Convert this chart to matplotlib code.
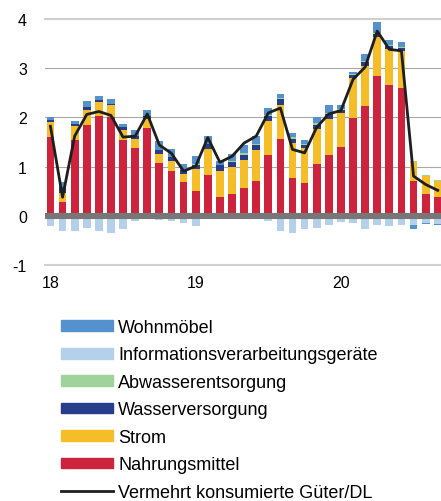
import numpy as np
import matplotlib.pyplot as plt
from matplotlib.patches import Patch
from matplotlib.lines import Line2D

plt.rcParams['font.family'] = ['Liberation Sans', 'DejaVu Sans']

# Monatswerte Jan 2018 bis Sep 2020 (Beiträge in Prozentpunkten)
months = np.arange(33)
nahrung = [1.61, 0.28, 1.55, 1.84, 2.02, 2.01, 1.55, 1.38, 1.78, 1.08, 0.91, 0.69,
           0.50, 0.84, 0.39, 0.44, 0.56, 0.72, 1.23, 1.57, 0.77, 0.67, 1.06, 1.23,
           1.39, 1.99, 2.23, 2.84, 2.65, 2.60, 0.71, 0.44, 0.38]
strom = [0.29, 0.19, 0.27, 0.32, 0.30, 0.24, 0.19, 0.19, 0.19, 0.18, 0.20, 0.17,
         0.46, 0.51, 0.53, 0.55, 0.57, 0.61, 0.69, 0.69, 0.71, 0.70, 0.71, 0.74,
         0.70, 0.80, 0.81, 0.79, 0.73, 0.74, 0.39, 0.38, 0.34]
wasser = [0.04, 0.11, 0.04, 0.05, 0.04, 0.03, 0.06, 0.05, 0.05, 0.07, 0.09, 0.07,
          0.08, 0.12, 0.11, 0.10, 0.11, 0.12, 0.10, 0.12, 0.09, 0.08, 0.07, 0.09,
          0.07, 0.08, 0.08, 0.07, 0.06, 0.06, 0.00, 0.00, 0.00]
abwasser = [0.00, 0.00, 0.00, 0.00, 0.00, 0.00, 0.00, 0.00, 0.00, 0.00, 0.00, 0.00,
            0.02, 0.00, 0.00, 0.02, 0.03, 0.02, 0.02, 0.02, 0.03, 0.02, 0.04, 0.02,
            0.02, 0.02, 0.03, 0.02, 0.02, 0.02, 0.02, 0.02, 0.01]
info = [-0.20, -0.30, -0.30, -0.25, -0.30, -0.34, -0.26, -0.10, -0.07, -0.09, -0.10, -0.15,
        -0.20, -0.03, 0.00, 0.00, 0.00, 0.00, -0.10, -0.30, -0.34, -0.26, -0.25, -0.18,
        -0.12, -0.15, -0.27, -0.19, -0.20, -0.18, -0.19, -0.15, -0.17]
wohn = [0.07, 0.11, 0.06, 0.13, 0.08, 0.10, 0.07, 0.12, 0.14, 0.19, 0.16, 0.13,
        0.15, 0.16, 0.09, 0.14, 0.17, 0.15, 0.15, 0.08, 0.09, 0.08, 0.13, 0.18,
        0.08, 0.03, 0.14, 0.22, 0.12, 0.11, -0.08, -0.02, -0.01]
total = [1.82, 0.38, 1.62, 2.06, 2.12, 2.04, 1.60, 1.62, 2.07, 1.44, 1.27, 0.91,
         1.01, 1.59, 1.09, 1.21, 1.48, 1.62, 2.09, 2.19, 1.35, 1.28, 1.80, 2.07,
         2.14, 2.77, 3.02, 3.75, 3.38, 3.35, 0.81, 0.64, 0.52]

# Reihenfolge von unten nach oben
series = [
    (nahrung, '#cd233c', 'Nahrungsmittel'),
    (strom, '#f5be28', 'Strom'),
    (wasser, '#283c8c', 'Wasserversorgung'),
    (abwasser, '#a0d29b', 'Abwasserentsorgung'),
    (info, '#b4d0eb', 'Informationsverarbeitungsgeräte'),
    (wohn, '#5591cd', 'Wohnmöbel'),
]

fig = plt.figure(figsize=(4.41, 5.02), dpi=100)
ax = fig.add_axes([45/441, 1 - 266.3/502, 396/441, (266.3 - 19.8)/502])

pos_bottom = np.zeros(len(months))
neg_bottom = np.zeros(len(months))
for vals, col, lab in series:
    v = np.array(vals)
    bottom = np.where(v >= 0, pos_bottom, neg_bottom)
    ax.bar(months, v, width=0.64, bottom=bottom, color=col, linewidth=0, zorder=2)
    pos_bottom += np.clip(v, 0, None)
    neg_bottom += np.clip(v, None, 0)

ax.plot(months, total, color='#1e1e1e', lw=2, zorder=4)
ax.axhline(0, color='#777777', lw=4.4, zorder=3)

ax.set_xlim(-0.45, 32.27)
ax.set_ylim(-1, 4)
for y in [1, 2, 3]:
    ax.axhline(y, color='#a8a8a8', lw=0.8, zorder=1)
for y in [-1, 4]:
    ax.axhline(y, color='#cfcfcf', lw=1.5, zorder=1, clip_on=False)

for s in ax.spines.values():
    s.set_visible(False)
ax.set_yticks([-1, 0, 1, 2, 3, 4])
ax.set_yticklabels(['-1', '0', '1', '2', '3', '4'])
ax.set_xticks([0, 12, 24])
ax.set_xticklabels(['18', '19', '20'])
ax.tick_params(axis='y', length=0, pad=13, labelsize=11.5)
ax.tick_params(axis='x', length=0, pad=7, labelsize=11.5)

handles = [Patch(color=c, label=l) for _, c, l in series[::-1]]
handles.append(Line2D([0], [0], color='#1e1e1e', lw=2, label='Vermehrt konsumierte Güter/DL'))
fig.legend(handles=handles, loc='upper left', bbox_to_anchor=(61/441, 1 - 320/502),
           frameon=False, fontsize=13, handlelength=2.9, handleheight=0.55,
           handletextpad=0.28, labelspacing=0.58, borderpad=0, borderaxespad=0)

fig.savefig('out.png', dpi=100)
